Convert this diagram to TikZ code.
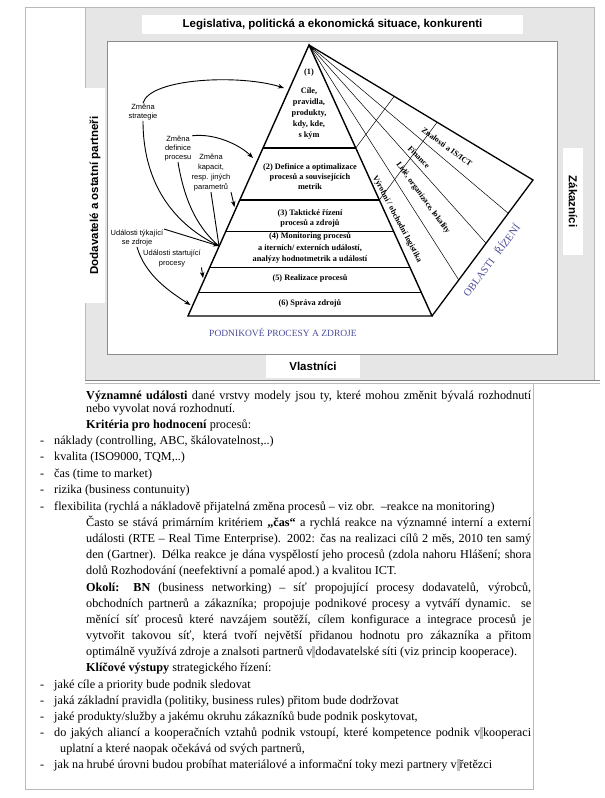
\documentclass[tikz,border=0pt]{standalone}
\usepackage{fontspec}
\setmainfont{Liberation Serif}
\setsansfont{Liberation Sans}
\usetikzlibrary{arrows.meta,calc}
\definecolor{bggray}{RGB}{230,230,230}
\definecolor{framegray}{RGB}{185,185,185}
\definecolor{panelgray}{RGB}{140,140,140}
\definecolor{areablue}{RGB}{75,75,155}
\definecolor{markgray}{RGB}{190,190,190}
\newcommand\myfs[2]{\fontsize{#1}{#2}\selectfont}
\newcommand\nbmark{\textcolor{markgray}{\rule[-2.5pt]{3pt}{12pt}}}
\begin{document}
\begin{tikzpicture}[x=1pt,y=-1pt,
  lbl/.style={font=\sffamily\bfseries\myfs{11.5}{13}, fill=white, inner sep=0pt},
  pyr/.style={font=\bfseries\myfs{8.3}{10}, align=center, inner sep=0pt},
  fanlbl/.style={font=\bfseries\myfs{8}{9}, inner sep=0pt},
  evt/.style={font=\sffamily\myfs{7.5}{9.5}, align=center, inner sep=0.5pt},
  arr/.style={line width=0.9pt, -{Stealth[length=6pt,width=4.5pt]}},
  conn/.style={line width=0.9pt},
  body/.style={font=\myfs{12.2}{16}, anchor=base west, inner sep=0pt},
  dashmark/.style={font=\myfs{12.2}{16}, anchor=base west, inner sep=0pt},
]
\useasboundingbox (0,0) rectangle (605,798);
% page frame
\draw[framegray, line width=0.8pt] (25,7) -- (85,7);
\draw[framegray, line width=0.8pt] (25,7) -- (25,789) -- (533,789) -- (533,383);
% diagram background
\fill[bggray] (85,7) rectangle (594,380);
\draw[framegray, line width=0.8pt] (85,7) rectangle (594,380);
\draw[gray, line width=0.8pt] (85,380.5) -- (600,380.5);
\draw[framegray, line width=0.8pt] (85,383) -- (600,383);
% title
\node[lbl, minimum width=381pt, minimum height=19pt] (title) at (332.5,24.5) {Legislativa, politická a ekonomická situace, konkurenti};
% inner panel
\draw[panelgray, fill=white, line width=0.9pt] (107,41) rectangle (557,354);
% side labels
\node[lbl, rotate=90, minimum width=215pt, minimum height=20pt] (supp) at (95,195.5) {Dodavatelé a ostatní partneři};
\node[lbl, rotate=-90, minimum width=107pt, minimum height=20pt] (cust) at (573,201.5) {Zákazníci};
\node[lbl, minimum width=94pt, minimum height=23pt] (owners) at (313,366.5) {Vlastníci};

% pyramid geometry
\coordinate (A) at (309,45);
\coordinate (BL) at (188,316);
\coordinate (BR) at (432,316);
\coordinate (P0) at (533,180);
\coordinate (P1) at ($(P0)!0.245!(BR)$);
\coordinate (P2) at ($(P0)!0.465!(BR)$);
\coordinate (P3) at ($(P0)!0.735!(BR)$);
\foreach \n/\t in {1/0.3801,2/0.5720,3/0.6863,4/0.8192,5/0.9114} {
  \coordinate (L\n) at ($(A)!\t!(BL)$);
  \coordinate (R\n) at ($(A)!\t!(BR)$);
}
% fan (areas of management)
\draw[line width=0.5pt] (A) -- (P1) (A) -- (P2) (A) -- (P3);
\draw[line width=0.5pt] ($(A)!0.3801!(BR)$) -- ($(A)!0.3801!(P0)$);
\draw[line width=0.5pt] ($(A)!0.572!(BR)$) -- ($(A)!0.572!(P0)$);
\draw[line width=1.3pt, line join=miter] (A) -- (P0) -- (BR);
% pyramid
\draw[line width=1.6pt] (L1) -- (R1);
\draw[line width=1.2pt] (L2) -- (R2);
\draw[line width=0.8pt] (L3) -- (R3) (L4) -- (R4) (L5) -- (R5);
\draw[line width=1.4pt, line join=miter] (A) -- (BL) -- (BR) -- cycle;

% pyramid texts
\node[pyr] (n1) at (309,73) {(1)};
\node[pyr, font=\bfseries\myfs{8.3}{11}] (c1) at (309,114) {Cíle,\\pravidla,\\produkty,\\kdy, kde,\\s kým};
\node[pyr] (c2) at (310,177) {(2) Definice a optimalizace\\procesů a souvisejících\\metrik};
\node[pyr] (c3) at (310,218) {(3) Taktické řízení\\procesů a zdrojů};
\node[pyr, font=\bfseries\myfs{8.3}{11.5}] (c4) at (310,248) {(4) Monitoring procesů\\a iterních/ externích událostí,\\analýzy hodnotmetrik a událostí};
\node[pyr] (c5) at (310,278.5) {(5) Realizace procesů};
\node[pyr] (c6) at (310,303.5) {(6) Správa zdrojů};

% fan texts
\node[fanlbl, rotate=-36] (f1) at (447,147) {Znalosti a IS/ICT};
\node[fanlbl, rotate=-45] (f2) at (419,157) {Finance};
\node[fanlbl, rotate=-54] (f3) at (423,198) {Lidé, organizace, lokality};
\node[fanlbl, rotate=-62] (f4) at (397,219) {Výrobní / obchodní logistika};

\node[font=\myfs{10.5}{12}, text=areablue, rotate=53, inner sep=0pt] (oblasti) at (491,260) {OBLASTI\hspace{8pt}ŘÍZENÍ};
\node[font=\myfs{9.5}{11}, text=areablue, inner sep=0pt] (podnik) at (283,332) {PODNIKOVÉ PROCESY A ZDROJE};

% event labels
\node[evt] (strat) at (143,112) {Změna\\strategie};
\node[evt, font=\sffamily\myfs{7.5}{9}] (defin) at (178,149) {Změna\\definice\\procesu};
\node[evt, font=\sffamily\myfs{7.5}{10}] (kapac) at (211,173) {Změna\\kapacit,\\resp. jiných\\parametrů};
\node[evt] (zdroj) at (137,238) {Události týkající\\se zdroje};
\node[evt] (start) at (172,258.5) {Události startující\\procesy};

\coordinate (C) at (219,246);
\coordinate (t1) at (284,88);
\coordinate (t2) at (253,158);
\coordinate (t3) at (234.5,207);
\coordinate (t5) at (203,278);
\coordinate (t6) at (190.5,305);

\draw[arr] (strat.north) .. controls (150,78) and (240,74) .. (t1);
\draw[conn] (strat.south) .. controls (143,185) and (175,225) .. (C);
\draw[arr] (defin.north east) .. controls (215,133) and (240,145) .. (t2);
\draw[conn] (defin.south) .. controls (185,205) and (200,230) .. (C);
\draw[arr] (kapac.south east) -- (t3);
\draw[conn] (kapac.south) -- (C);
\draw[arr] (zdroj.north east) -- (C);
\draw[arr] (zdroj.south) .. controls (145,275) and (170,292) .. (t6);
\draw[arr] (start.south east) -- (t5);

% body text
\node[body] (b1) at (86,399.5) {\makebox[445pt][s]{\textbf{Významné události} dané vrstvy modely jsou ty, které mohou změnit bývalá rozhodnutí}};
\node[body] (b2) at (86,412.5) {nebo vyvolat nová rozhodnutí.};
\node[body] (b3) at (86,428.5) {\textbf{Kritéria pro hodnocení} procesů:};
\node[dashmark] (d4) at (40,444.5) {-};
\node[body] (b4) at (54,444.5) {náklady (controlling, ABC, škálovatelnost,..)};
\node[dashmark] (d5) at (40,460.5) {-};
\node[body] (b5) at (54,460.5) {kvalita (ISO9000, TQM,..)};
\node[dashmark] (d6) at (40,477.5) {-};
\node[body] (b6) at (54,477.5) {čas (time to market)};
\node[dashmark] (d7) at (40,493.5) {-};
\node[body] (b7) at (54,493.5) {rizika (business contunuity)};
\node[dashmark] (d8) at (40,510.5) {-};
\node[body] (b8) at (54,510.5) {flexibilita (rychlá a nákladově přijatelná změna procesů – viz obr.\ \ –reakce na monitoring)};
\node[body] (b9) at (86,526.5) {\makebox[445pt][s]{Často se stává primárním kritériem \textbf{„čas“} a rychlá reakce na významné interní a externí}};
\node[body] (b10) at (86,542.5) {\makebox[445pt][s]{události (RTE – Real Time Enterprise). 2002: čas na realizaci cílů 2 měs, 2010 ten samý}};
\node[body] (b11) at (86,558.5) {\makebox[445pt][s]{den (Gartner). Délka reakce je dána vyspělostí jeho procesů (zdola nahoru Hlášení; shora}};
\node[body] (b12) at (86,574.5) {dolů Rozhodování (neefektivní a pomalé apod.) a kvalitou ICT.};
\node[body] (b13) at (86,591.5) {\makebox[445pt][s]{\textbf{Okolí: BN} (business networking) – síť propojující procesy dodavatelů, výrobců,}};
\node[body] (b14) at (86,607.5) {\makebox[445pt][s]{obchodních partnerů a zákazníka; propojuje podnikové procesy a vytváří dynamic. se}};
\node[body] (b15) at (86,623.5) {\makebox[445pt][s]{měnící síť procesů které navzájem soutěží, cílem konfigurace a integrace procesů je}};
\node[body] (b16) at (86,639.5) {\makebox[445pt][s]{vytvořit takovou síť, která tvoří největší přidanou hodnotu pro zákazníka a přitom}};
\node[body] (b17) at (86,655.5) {optimálně využívá zdroje a znalsoti partnerů v\nbmark dodavatelské síti (viz princip kooperace).};
\node[body] (b18) at (86,671.5) {\textbf{Klíčové výstupy} strategického řízení:};
\node[dashmark] (d19) at (40,688.5) {-};
\node[body] (b19) at (54,688.5) {jaké cíle a priority bude podnik sledovat};
\node[dashmark] (d20) at (40,704.5) {-};
\node[body] (b20) at (54,704.5) {jaká základní pravidla (politiky, business rules) přitom bude dodržovat};
\node[dashmark] (d21) at (40,720.5) {-};
\node[body] (b21) at (54,720.5) {jaké produkty/služby a jakému okruhu zákazníků bude podnik poskytovat,};
\node[dashmark] (d22) at (40,736.5) {-};
\node[body] (b22) at (54,736.5) {\makebox[477pt][s]{do jakých aliancí a kooperačních vztahů podnik vstoupí, které kompetence podnik v\nbmark kooperaci}};
\node[body] (b23) at (60,752.5) {uplatní a které naopak očekává od svých partnerů,};
\node[dashmark] (d24) at (40,768.5) {-};
\node[body] (b24) at (54,768.5) {jak na hrubé úrovni budou probíhat materiálové a informační toky mezi partnery v\nbmark řetězci};
\end{tikzpicture}
\end{document}
